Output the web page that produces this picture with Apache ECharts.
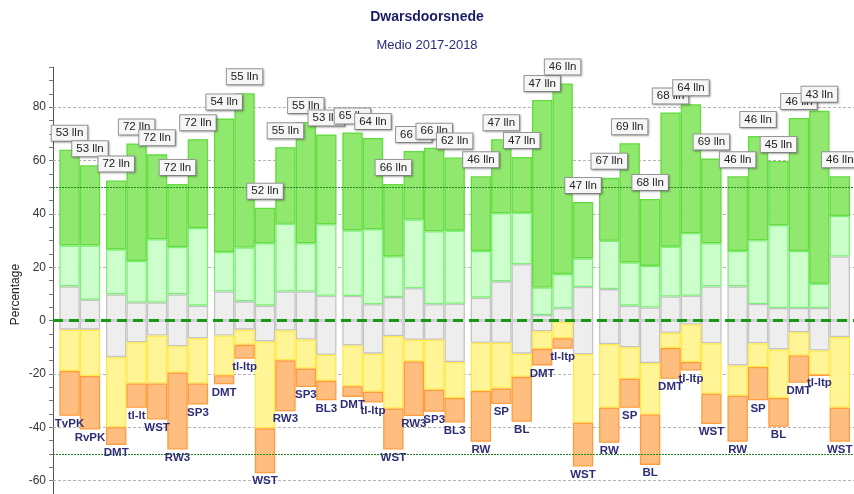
<!DOCTYPE html>
<html><head><meta charset="utf-8">
<script src="https://cdn.jsdelivr.net/npm/echarts@6/dist/echarts.min.js"></script>
<style>html,body{margin:0;padding:0;background:#fff}#c{width:854px;height:494px}</style>
</head><body><div id="c"></div>
<script>
// bar names (school types), group index per bar, number of pupils
const names = ['TvPK','RvPK','DMT','tl-lt','WST','RW3','SP3','DMT','tl-ltp','WST','RW3','SP3','BL3','DMT','tl-ltp','WST','RW3','SP3','BL3','RW','SP','BL','DMT','tl-ltp','WST','RW','SP','BL','DMT','tl-ltp','WST','RW','SP','BL','DMT','tl-ltp','WST'];
const groups = [0,0,1,1,1,1,1,2,2,2,2,2,2,3,3,3,3,3,3,4,4,4,4,4,4,5,5,5,5,5,5,6,6,6,6,6,6];
const lln = [53,53,72,72,72,72,72,54,55,52,55,55,53,65,64,66,66,66,62,46,47,47,47,46,47,67,69,68,68,64,69,46,46,45,46,43,46];
// segment sizes (percentage points)
const grayPos    = [12.8,7.8,9.8,6.8,6.8,9.8,5.6,10.9,7.2,5.6,10.9,10.9,9.3,9.2,6.1,8.8,12.1,6.1,6.3,8.6,14.7,21.1,2.1,4.6,12.6,11.8,5.6,4.9,9.0,9.3,12.8,12.8,6.2,4.7,4.7,4.7,24.0];
const lightGreen = [15.4,20.4,16.9,15.5,23.7,17.8,29.1,14.8,20.2,23.4,25.4,18.1,26.8,24.6,28.1,15.2,25.8,27.4,27.4,17.5,25.5,19.3,10.3,12.8,10.7,18.1,16.2,15.6,18.7,23.4,16.2,13.3,23.9,31.0,21.4,9.1,15.2];
const darkGreen  = [35.8,30.0,25.8,44.1,31.8,23.6,33.3,50.0,57.8,13.3,28.7,45.4,33.6,36.7,34.2,27.2,25.7,31.3,27.4,28.0,27.8,20.9,70.3,71.5,21.1,23.6,44.7,25.1,50.3,48.4,31.7,28.0,39.1,24.1,49.8,64.8,14.9];
const grayNeg    = [-3.4,-3.4,-13.7,-8.1,-5.6,-9.6,-6.6,-5.6,-3.4,-7.8,-3.7,-7.1,-12.8,-9.3,-12.4,-5.8,-7.2,-7.2,-15.5,-8.3,-8.3,-12.4,-4.0,-0.4,-12.6,-8.8,-10.0,-15.9,-4.6,-1.5,-8.5,-16.8,-8.5,-10.8,-4.4,-11.2,-6.2];
const yellow     = [-15.5,-17.4,-26.3,-15.5,-18.0,-9.9,-17.0,-14.9,-5.7,-32.6,-11.2,-10.9,-9.8,-15.3,-14.3,-27.2,-8.1,-18.7,-13.5,-18.1,-17.2,-8.7,-6.6,-6.2,-25.7,-23.9,-11.8,-19.3,-5.7,-14.0,-18.9,-11.4,-8.9,-18.2,-8.7,-9.3,-26.5];
const orange     = [-16.8,-20.0,-6.6,-9.1,-13.5,-28.8,-7.9,-3.4,-5.2,-16.8,-19.1,-6.9,-7.3,-4.0,-4.0,-15.3,-20.5,-8.3,-9.2,-19.0,-5.8,-16.8,-6.2,-4.0,-16.4,-13.1,-10.9,-18.9,-11.5,-3.2,-11.4,-17.2,-12.5,-10.8,-10.2,0,-12.7];
const gridValues = [-60,-40,-20,20,40,60,80];
const targetValues = [50,-50];
const zeroValue = [0];

const GAP = 0.284;
const xs = names.map((n, i) => i + groups[i] * GAP);
// value first, position second (so stacking runs along the value dimension)
const pairs = arr => arr.map((v, i) => [v, xs[i]]);
const zeros = names.map(() => 0);

function bar(name, data, fill, border, extra) {
  return Object.assign({
    type: 'bar', name: name, stack: 's', data: pairs(data), barWidth: 20.4, z: 2,
    dimensions: ['val', 'pos'], encode: { x: 'pos', y: 'val' },
    itemStyle: { color: fill, borderColor: border, borderWidth: 1.3 },
    emphasis: { disabled: true }, animation: false
  }, extra || {});
}

const chart = echarts.init(document.getElementById('c'), null, { renderer: 'canvas' });
chart.setOption({
  animation: false,
  title: [
    { text: 'Dwarsdoorsnede', left: 'center', top: 10, padding: 0,
      textStyle: { fontFamily: 'Liberation Sans', fontSize: 14, fontWeight: 'bold', color: '#1c1c66' } },
    { text: 'Medio 2017-2018', left: 'center', top: 39, padding: 0,
      textStyle: { fontFamily: 'Liberation Sans', fontSize: 13, fontWeight: 'normal', color: '#2a2a80' } }
  ],
  grid: { left: 53, right: 0, top: 67.1, height: 428.8 },
  xAxis: { type: 'value', min: -0.81, max: 38.4, show: false },
  yAxis: {
    type: 'value', min: -65, max: 95, interval: 5,
    name: 'Percentage', nameLocation: 'middle', nameGap: 31, nameMoveOverlap: false,
    nameTextStyle: { fontFamily: 'Liberation Sans', fontSize: 12, color: '#222', padding: [0, 28, 0, 0] },
    axisLine: { show: true, onZero: false, lineStyle: { color: '#555', width: 1 } },
    axisTick: { show: true, length: 4, lineStyle: { color: '#777' } },
    axisLabel: { interval: 0, fontFamily: 'Liberation Sans', fontSize: 12, color: '#333', margin: 7,
      formatter: v => (v % 20 === 0 ? String(v) : '') },
    splitLine: { show: false }
  },
  series: [
    bar('neutraal+', grayPos, '#eeeeee', '#c4c4c4', {
      markLine: { silent: true, symbol: 'none', z: 1, animation: false, label: { show: false },
        lineStyle: { color: '#b4b4b4', type: [3, 2], width: 1 },
        data: gridValues.map(v => ({ yAxis: v })) }
    }),
    bar('licht groen', lightGreen, '#ccffcc', '#80ee7a'),
    bar('groen', darkGreen, '#91e86e', '#62dc3e', {
      markLine: { silent: true, symbol: 'none', z: 5, animation: false, label: { show: false },
        data: targetValues.map(v => ({ yAxis: v, lineStyle: { color: '#1e8a1e', type: [2, 1], width: 1 } }))
          .concat(zeroValue.map(v => ({ yAxis: v, lineStyle: { color: '#159a15', type: [10, 6], width: 3 } }))) }
    }),
    bar('lln', zeros, 'rgba(0,0,0,0)', 'rgba(0,0,0,0)', {
      z: 6, itemStyle: { color: 'rgba(0,0,0,0)', borderWidth: 0 },
      label: { show: true, position: 'top', distance: 9, formatter: p => lln[p.dataIndex] + ' lln',
        fontFamily: 'Liberation Sans', fontSize: 11.5, color: '#222', backgroundColor: '#f6f6f6',
        borderColor: '#999', borderWidth: 1, padding: [1, 4, 1, 4], lineHeight: 13,
        shadowColor: 'rgba(0,0,0,0.25)', shadowBlur: 2, shadowOffsetX: 1, shadowOffsetY: 1 }
    }),
    bar('neutraal-', grayNeg, '#eeeeee', '#c4c4c4'),
    bar('geel', yellow, '#fff496', '#ffe94a'),
    bar('oranje', orange, '#ffbe80', '#ff9c3e'),
    bar('naam', zeros, 'rgba(0,0,0,0)', 'rgba(0,0,0,0)', {
      z: 6, itemStyle: { color: 'rgba(0,0,0,0)', borderWidth: 0 },
      label: { show: true, position: 'bottom', distance: 2, formatter: p => names[p.dataIndex],
        fontFamily: 'Liberation Sans', fontSize: 11.5, fontWeight: 'bold', color: '#2e2e78' }
    })
  ]
});
</script>
</body></html>
